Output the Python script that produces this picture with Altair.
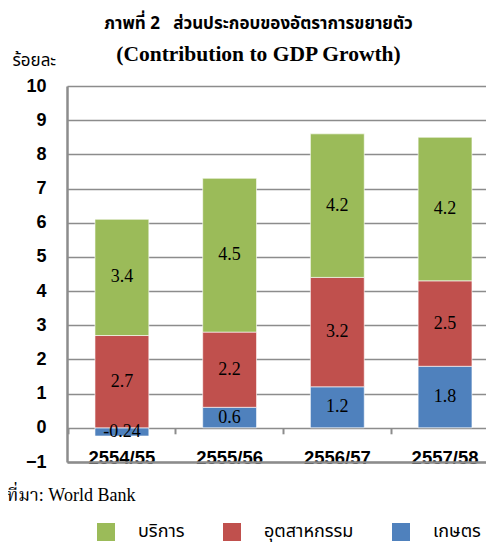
import altair as alt
import pandas as pd

years = ["2554/55", "2555/56", "2556/57", "2557/58"]
sectors = ["บริการ", "อุตสาหกรรม", "เกษตร"]
services = [3.4, 4.5, 4.2, 4.2]
industry = [2.7, 2.2, 3.2, 2.5]
agriculture = [-0.24, 0.6, 1.2, 1.8]
colors = ["#9BBB59", "#C0504D", "#4F81BD"]

rows = []
for i, y in enumerate(years):
    for order, (sec, vals) in enumerate([(sectors[2], agriculture), (sectors[1], industry), (sectors[0], services)]):
        rows.append({"year": y, "sector": sec, "value": vals[i], "ord": order, "label": str(vals[i])})
df = pd.DataFrame(rows)

THAI = "'Noto Sans Thai', 'Noto Sans Thai UI', Tahoma, 'DejaVu Sans', sans-serif"
SERIF = "'Liberation Serif', 'Noto Serif Thai', serif"
SANS_B = "'Liberation Sans', Arial, sans-serif"

base = alt.Chart(df).transform_stack(
    stack="value", groupby=["year"], as_=["y0", "y1"],
    sort=[alt.SortField("ord", order="ascending")], offset="zero"
).transform_calculate(mid="(datum.y0 + datum.y1) / 2")

yscale = alt.Scale(domain=[-1, 10], nice=False, zero=False)
xscale = alt.Scale(paddingInner=0.5, paddingOuter=0.195, align=0.666)

yaxis = alt.Axis(values=list(range(-1, 11)), title="ร้อยละ", titleAngle=0,
                 titleAlign="left", titleBaseline="middle", titleX=-55, titleY=-26,
                 titleFont=THAI, titleFontSize=17, titleFontWeight="normal",
                 titleColor="#000000",
                 labelFont=SANS_B, labelFontSize=18, labelFontWeight="bold",
                 labelColor="#000000", labelPadding=21, ticks=False, tickSize=0,
                 domainColor="#8c8c8c", domainWidth=2.5,
                 grid=True, gridColor="#8c8c8c", gridWidth=1.6)

bars = base.mark_bar(stroke="#ffffff", strokeOpacity=0.6, strokeWidth=1).encode(
    x=alt.X("year:N", sort=years, scale=xscale,
            axis=alt.Axis(title="ที่มา: World Bank", titleFont=SERIF, titleFontSize=18,
                          titleFontWeight="normal", titleColor="#000000",
                          titleAnchor="start", titleAlign="left", titleX=-61, titleY=38,
                          titleBaseline="alphabetic",
                          labelAngle=0, labelFont=SANS_B, labelFontSize=18.5, labelFontWeight="bold",
                          labelColor="#000000", labelBaseline="alphabetic", labelPadding=1,
                          ticks=False, tickSize=0, domain=True, domainColor="#8c8c8c",
                          domainWidth=2.5, grid=False)),
    y=alt.Y("y0:Q", scale=yscale, axis=yaxis),
    y2="y1:Q",
    color=alt.Color("sector:N", scale=alt.Scale(domain=sectors, range=colors),
                    legend=alt.Legend(title=None, orient="none", direction="horizontal",
                                      legendX=30, legendY=437, symbolType="square",
                                      symbolSize=324, symbolStrokeWidth=0, labelOffset=23,
                                      columnPadding=38, labelFont=THAI, labelFontSize=18,
                                      labelColor="#000000")),
    order=alt.Order("ord:Q"),
)

texts = base.mark_text(font=SERIF, fontSize=18, color="#000000", baseline="middle").encode(
    x=alt.X("year:N", sort=years, scale=xscale,
            axis=alt.Axis(orient="bottom", offset=-34.2, labels=False, title=None,
                          domain=False, ticks=True, tickSize=6, tickColor="#8c8c8c",
                          tickWidth=2, bandPosition=-0.5, grid=False)),
    y=alt.Y("mid:Q", scale=yscale, axis=yaxis),
    text="label:N",
)

chart = alt.layer(bars, texts).resolve_axis(x="independent").properties(
    width=419, height=376,
    autosize=alt.AutoSizeParams(type="none"),
    padding={"left": 59, "top": 78, "right": 0, "bottom": 84},
    title=alt.TitleParams(
        text="ภาพที่ 2\u00a0\u00a0\u00a0ส่วนประกอบของอัตราการขยายตัว",
        subtitle="(Contribution to GDP Growth)",
        font=THAI, fontSize=17, fontWeight="bold", color="#000000",
        subtitleFont=SERIF, subtitleFontSize=21.5, subtitleFontWeight="bold",
        subtitleColor="#000000", subtitlePadding=11, anchor="middle", dx=-18, offset=-15,
    ),
).configure_view(stroke=None)

chart.save("out.html", embed_options={"renderer": "svg", "actions": False})
